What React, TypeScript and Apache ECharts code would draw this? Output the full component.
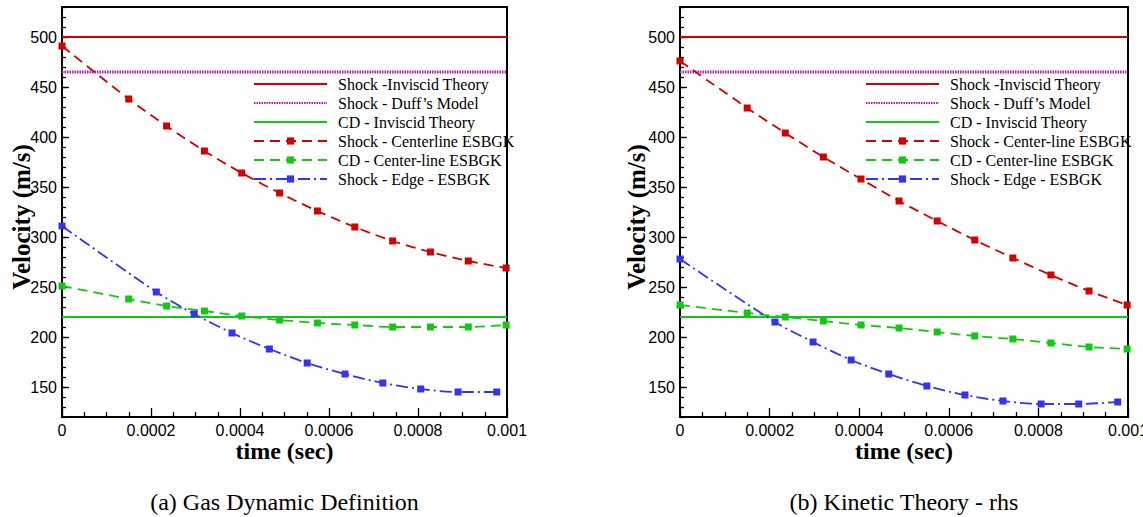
import { useEffect, useRef } from 'react';
import * as echarts from 'echarts';

// Sample times (s) of the marked centre-line and edge points
const timeCenterline = [0, 0.00015, 0.000235, 0.00032, 0.000404, 0.000489, 0.000574, 0.000658, 0.000743, 0.000828, 0.000913, 0.000998];
const timeEdge = [0, 0.000212, 0.000297, 0.000382, 0.000466, 0.000551, 0.000636, 0.000721, 0.000806, 0.00089, 0.000977];

// Reference velocities (m/s)
const shockInviscid = 500;
const shockDuff = 465;
const cdInviscid = 220;

// (a) Gas dynamic definition
const shockCenterA = [491, 438, 411, 386, 364, 344, 326, 310, 296, 285, 276, 269];
const cdCenterA = [251, 238, 231, 226, 221, 217, 214, 212, 210, 210, 210, 212];
const shockEdgeA = [311, 245, 223, 204, 188, 174, 163, 154, 148, 145, 145];

// (b) Kinetic theory - rhs
const shockCenterB = [476, 429, 404, 380, 358, 336, 316, 297, 279, 262, 246, 232];
const cdCenterB = [232, 224, 220, 216, 212, 209, 205, 201, 198, 194, 190, 188];
const shockEdgeB = [278, 215, 195, 177, 163, 151, 142, 136, 133, 133, 135];

// Axis ranges
const timeRange = [0, 0.001];
const velocityRange = [120, 530];

const captions = ['(a) Gas Dynamic Definition', '(b) Kinetic Theory - rhs'];
const centerNames = ['Shock - Centerline ESBGK', 'Shock - Center-line ESBGK'];

const RED = '#d40000';
const GREEN = '#12c812';
const BLUE = '#3333f5';
const MAGENTA = '#b818b8';

const SERIF = '"Liberation Serif", "Times New Roman", serif';
const SANS = '"Liberation Sans", Arial, sans-serif';

const layouts = [
  { left: 62, width: 445, legendLeft: 253, yTitleX: 21 },
  { left: 680, width: 448, legendLeft: 865, yTitleX: 636 },
];
const gridTop = 7;
const gridHeight = 410;

const pairs = (xs: number[], ys: number[]) => ys.map((y, i) => [xs[i], y]);
const flat = (v: number) => [[timeRange[0], v], [timeRange[1], v]];

function buildOption() {
  const panelData = [
    { shock: shockCenterA, cd: cdCenterA, edge: shockEdgeA },
    { shock: shockCenterB, cd: cdCenterB, edge: shockEdgeB },
  ];

  const grid: any[] = [];
  const xAxis: any[] = [];
  const yAxis: any[] = [];
  const series: any[] = [];
  const legend: any[] = [];
  const graphic: any[] = [];

  layouts.forEach((lay, i) => {
    grid.push({
      left: lay.left, top: gridTop, width: lay.width, height: gridHeight,
      show: true, borderColor: '#000', borderWidth: 2, backgroundColor: 'transparent',
      containLabel: false, outerBoundsMode: 'none',
    });
    xAxis.push({
      type: 'value', gridIndex: i, min: timeRange[0], max: timeRange[1], interval: 0.0002,
      position: 'bottom',
      axisLine: { show: true, onZero: false, lineStyle: { color: '#000', width: 2 } },
      axisTick: { show: true, inside: true, length: 9, lineStyle: { color: '#000', width: 1.3 } },
      minorTick: { show: true, splitNumber: 4, length: 5, lineStyle: { color: '#000', width: 1.3 } },
      splitLine: { show: false },
      axisLabel: {
        color: '#000', fontFamily: SANS, fontSize: 16, margin: 5,
        formatter: (v: number) => (v === 0 ? '0' : String(+v.toFixed(4))),
      },
    });
    // major ticks and labels every 50 m/s
    yAxis.push({
      type: 'value', gridIndex: i, min: velocityRange[0], max: velocityRange[1],
      splitNumber: 8, minInterval: 50, maxInterval: 50, position: 'left',
      axisLine: { show: true, onZero: false, lineStyle: { color: '#000', width: 2 } },
      axisTick: { show: true, inside: true, length: 7, lineStyle: { color: '#000', width: 1.3 } },
      splitLine: { show: false },
      axisLabel: {
        color: '#000', fontFamily: SANS, fontSize: 16, margin: 5,
        showMinLabel: false, showMaxLabel: false,
        formatter: (v: number) => (v % 50 === 0 ? String(v) : ''),
      },
    });
    // minor ticks every 10 m/s
    yAxis.push({
      type: 'value', gridIndex: i, min: velocityRange[0], max: velocityRange[1], interval: 10,
      position: 'left', offset: 0,
      axisLine: { show: false, onZero: false },
      axisTick: { show: true, inside: true, length: 4, lineStyle: { color: '#000', width: 1.3 } },
      splitLine: { show: false },
      axisLabel: { show: false },
    });

    const d = panelData[i];
    const common = { xAxisIndex: i, yAxisIndex: i * 2, clip: true, animation: false };
    // plain reference lines: no markers, so the legend symbol is left transparent
    const noMark = { color: 'transparent', borderWidth: 0 };
    series.push(
      {
        ...common, type: 'line', name: 'Shock -Inviscid Theory', data: flat(shockInviscid),
        symbol: 'none', lineStyle: { color: RED, width: 2 }, itemStyle: noMark,
      },
      {
        ...common, type: 'line', name: 'Shock - Duff\u2019s Model', data: flat(shockDuff),
        symbol: 'none', lineStyle: { color: MAGENTA, width: 3, type: [1.5, 1] }, itemStyle: noMark,
      },
      {
        ...common, type: 'line', name: 'CD - Inviscid Theory', data: flat(cdInviscid),
        symbol: 'none', lineStyle: { color: GREEN, width: 2 }, itemStyle: noMark,
      },
      {
        ...common, type: 'line', name: centerNames[i], data: pairs(timeCenterline, d.shock),
        smooth: 0.3, symbol: 'rect', symbolSize: 7, showAllSymbol: true,
        lineStyle: { color: RED, width: 1.8, type: [10, 6] }, itemStyle: { color: RED },
      },
      {
        ...common, type: 'line', name: 'CD - Center-line ESBGK', data: pairs(timeCenterline, d.cd),
        smooth: 0.3, symbol: 'rect', symbolSize: 7, showAllSymbol: true,
        lineStyle: { color: GREEN, width: 1.8, type: [10, 6] }, itemStyle: { color: GREEN },
      },
      {
        ...common, type: 'line', name: 'Shock - Edge - ESBGK', data: pairs(timeEdge, d.edge),
        smooth: 0.3, symbol: 'rect', symbolSize: 7, showAllSymbol: true,
        lineStyle: { color: BLUE, width: 1.8, type: [12, 4, 2, 4] }, itemStyle: { color: BLUE },
      },
    );

    legend.push({
      show: true, orient: 'vertical', left: lay.legendLeft, top: 76,
      itemWidth: 73, itemHeight: 9, itemGap: 3, padding: 0, selectedMode: false,
      data: ['Shock -Inviscid Theory', 'Shock - Duff\u2019s Model', 'CD - Inviscid Theory',
        centerNames[i], 'CD - Center-line ESBGK', 'Shock - Edge - ESBGK'],
      textStyle: { fontFamily: SERIF, fontSize: 16, color: '#000', padding: [0, 0, 0, 6] },
    });

    const cx = lay.left + lay.width / 2;
    graphic.push(
      {
        type: 'text', x: lay.yTitleX, y: gridTop + gridHeight / 2 + 5, rotation: Math.PI / 2,
        style: { text: 'Velocity (m/s)', font: `bold 25px ${SERIF}`, fill: '#000', align: 'center', verticalAlign: 'middle' },
      },
      {
        type: 'text', x: cx, y: 451,
        style: { text: 'time (sec)', font: `bold 24px ${SERIF}`, fill: '#000', align: 'center', verticalAlign: 'middle' },
      },
      {
        type: 'text', x: cx, y: 502,
        style: { text: captions[i], font: `24px ${SERIF}`, fill: '#000', align: 'center', verticalAlign: 'middle' },
      },
    );
  });

  return { animation: false, backgroundColor: '#fff', grid, xAxis, yAxis, series, legend, graphic };
}

export default function App() {
  const ref = useRef<HTMLDivElement>(null);
  useEffect(() => {
    if (!ref.current) return;
    const chart = echarts.init(ref.current, undefined, { renderer: 'svg' });
    chart.setOption(buildOption() as any);
    return () => chart.dispose();
  }, []);
  return (
    <div
      ref={ref}
      style={{ position: 'absolute', left: 0, top: 0, width: 1143, height: 517, background: '#fff' }}
    />
  );
}
